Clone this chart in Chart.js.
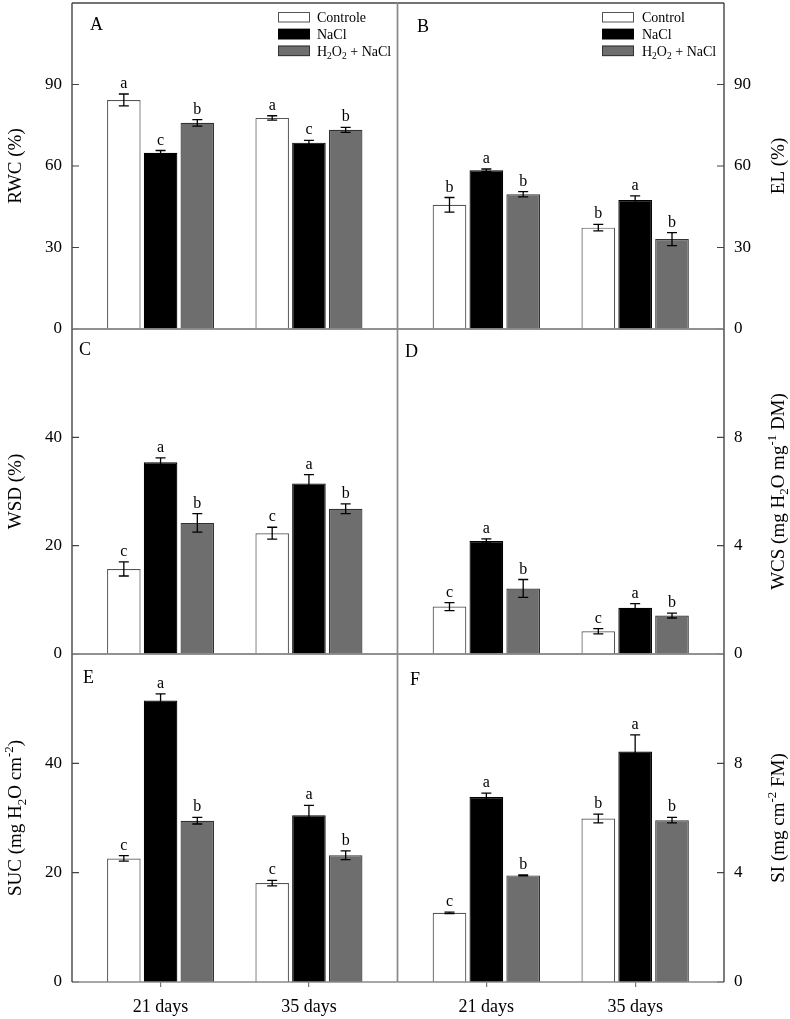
<!DOCTYPE html>
<html>
<head>
<meta charset="utf-8">
<script src="https://cdn.jsdelivr.net/npm/chart.js@4/dist/chart.umd.min.js"></script>
<style>
html,body{margin:0;padding:0;background:#fff;}
#wrap{position:relative;width:790px;height:1019px;background:#fff;}
#wrap canvas{position:absolute;left:0;top:0;}
</style>
</head>
<body>
<div id="wrap"></div>
<script>
// ---------- DATA ----------
const categories = ['21 days', '35 days'];

// A: RWC (%)
const rwcControl = [84.3, 77.7];   const rwcControlErr = [2.2, 0.8];
const rwcNaCl    = [64.9, 68.6];   const rwcNaClErr    = [0.8, 0.8];
const rwcH2O2    = [75.9, 73.3];   const rwcH2O2Err    = [1.2, 0.9];
const rwcLetters = [['a','a'], ['c','c'], ['b','b']];
const rwcTicks   = [0, 30, 60, 90];

// B: EL (%)
const elControl = [45.7, 37.3];    const elControlErr = [2.7, 1.2];
const elNaCl    = [58.4, 47.5];    const elNaClErr    = [0.5, 1.5];
const elH2O2    = [49.6, 33.1];    const elH2O2Err    = [1.0, 2.4];
const elLetters = [['b','b'], ['a','a'], ['b','b']];
const elTicks   = [0, 30, 60, 90];

// C: WSD (%)
const wsdControl = [15.7, 22.3];   const wsdControlErr = [1.3, 1.1];
const wsdNaCl    = [35.4, 31.5];   const wsdNaClErr    = [0.8, 1.6];
const wsdH2O2    = [24.2, 26.8];   const wsdH2O2Err    = [1.7, 0.9];
const wsdLetters = [['c','c'], ['a','a'], ['b','b']];
const wsdTicks   = [0, 20, 40];

// D: WCS (mg H2O mg-1 DM)
const wcsControl = [1.75, 0.84];   const wcsControlErr = [0.15, 0.10];
const wcsNaCl    = [4.17, 1.71];   const wcsNaClErr    = [0.08, 0.15];
const wcsH2O2    = [2.42, 1.42];   const wcsH2O2Err    = [0.33, 0.09];
const wcsLetters = [['c','c'], ['a','a'], ['b','b']];
const wcsTicks   = [0, 4, 8];

// E: SUC (mg H2O cm-2)
const sucControl = [22.6, 18.1];   const sucControlErr = [0.5, 0.5];
const sucNaCl    = [51.5, 30.5];   const sucNaClErr    = [1.2, 1.8];
const sucH2O2    = [29.5, 23.2];   const sucH2O2Err    = [0.6, 0.8];
const sucLetters = [['c','c'], ['a','a'], ['b','b']];
const sucTicks   = [0, 20, 40];

// F: SI (mg cm-2 FM)
const siControl = [2.53, 5.98];    const siControlErr = [0.03, 0.16];
const siNaCl    = [6.77, 8.43];    const siNaClErr    = [0.14, 0.61];
const siH2O2    = [3.90, 5.92];    const siH2O2Err    = [0.02, 0.10];
const siLetters = [['c','b'], ['a','a'], ['b','b']];
const siTicks   = [0, 4, 8];

// texts (segments: 0 normal, -1 subscript, 1 superscript)
const titleA = [['RWC (%)',0]];
const titleB = [['EL (%)',0]];
const titleC = [['WSD (%)',0]];
const titleD = [['WCS (mg H',0],['2',-1],['O mg',0],['-1',1],[' DM)',0]];
const titleE = [['SUC (mg H',0],['2',-1],['O cm',0],['-2',1],[')',0]];
const titleF = [['SI (mg cm',0],['-2',1],[' FM)',0]];
const legendA = [[['Controle',0]], [['NaCl',0]], [['H',0],['2',-1],['O',0],['2',-1],[' + NaCl',0]]];
const legendB = [[['Control',0]], [['NaCl',0]], [['H',0],['2',-1],['O',0],['2',-1],[' + NaCl',0]]];

// ---------- STYLE / LAYOUT ----------
const FONT = '"Liberation Serif", "Times New Roman", serif';
const W = 790, H = 1019;
const colX = [[72, 397.5], [397.5, 724]];
const rowY = [[3, 329], [329, 654], [654, 982]];
const fills = ['#ffffff', '#000000', '#6e6e6e'];
const borders = ['#555555', '#000000', '#333333'];
const OUTER = '#444444', INNER = '#8a8a8a';

function richWidth(ctx, segs, size) {
  let w = 0;
  for (const [t, k] of segs) { ctx.font = (k ? size * 0.68 : size) + 'px ' + FONT; w += ctx.measureText(t).width; }
  return w;
}
function drawRich(ctx, segs, x, y, size) {
  let cx = x;
  for (const [t, k] of segs) {
    const s = k ? size * 0.68 : size;
    ctx.font = s + 'px ' + FONT;
    const dy = k === -1 ? size * 0.25 : (k === 1 ? -size * 0.4 : 0);
    ctx.fillText(t, cx, y + dy);
    cx += ctx.measureText(t).width;
  }
}

const panels = [
  {letter:'A', col:0, row:0, series:[rwcControl, rwcNaCl, rwcH2O2], errs:[rwcControlErr, rwcNaClErr, rwcH2O2Err], letters:rwcLetters, max:120, ticks:rwcTicks, title:titleA, legend:legendA, legendBox:278, legendText:317, letterPos:[90,30]},
  {letter:'B', col:1, row:0, series:[elControl, elNaCl, elH2O2], errs:[elControlErr, elNaClErr, elH2O2Err], letters:elLetters, max:120, ticks:elTicks, title:titleB, legend:legendB, legendBox:602, legendText:642, letterPos:[417,32]},
  {letter:'C', col:0, row:1, series:[wsdControl, wsdNaCl, wsdH2O2], errs:[wsdControlErr, wsdNaClErr, wsdH2O2Err], letters:wsdLetters, max:60, ticks:wsdTicks, title:titleC, letterPos:[79,355]},
  {letter:'D', col:1, row:1, series:[wcsControl, wcsNaCl, wcsH2O2], errs:[wcsControlErr, wcsNaClErr, wcsH2O2Err], letters:wcsLetters, max:12, ticks:wcsTicks, title:titleD, letterPos:[405,357]},
  {letter:'E', col:0, row:2, series:[sucControl, sucNaCl, sucH2O2], errs:[sucControlErr, sucNaClErr, sucH2O2Err], letters:sucLetters, max:60, ticks:sucTicks, title:titleE, letterPos:[83,683]},
  {letter:'F', col:1, row:2, series:[siControl, siNaCl, siH2O2], errs:[siControlErr, siNaClErr, siH2O2Err], letters:siLetters, max:12, ticks:siTicks, title:titleF, letterPos:[410,685]}
];

function makePlugin(p) {
  return {
    id: 'panelDeco' + p.letter,
    afterDraw(chart) {
      const ctx = chart.ctx;
      const a = chart.chartArea;
      const ys = chart.scales.y;
      ctx.save();
      // error bars and letters
      p.series.forEach((vals, d) => {
        const meta = chart.getDatasetMeta(d);
        meta.data.forEach((el, i) => {
          const v = vals[i], e = p.errs[d][i];
          const top = ys.getPixelForValue(v + e);
          const bot = ys.getPixelForValue(v - e);
          ctx.strokeStyle = '#000';
          ctx.lineWidth = 1.3;
          ctx.beginPath();
          ctx.moveTo(el.x, top); ctx.lineTo(el.x, bot);
          ctx.moveTo(el.x - 5, top); ctx.lineTo(el.x + 5, top);
          ctx.moveTo(el.x - 5, bot); ctx.lineTo(el.x + 5, bot);
          ctx.stroke();
          ctx.fillStyle = '#000';
          ctx.font = '16px ' + FONT;
          ctx.textAlign = 'center';
          ctx.textBaseline = 'alphabetic';
          ctx.fillText(p.letters[d][i], el.x, top - 6);
        });
      });
      // inward y ticks
      ctx.strokeStyle = OUTER; ctx.lineWidth = 1.2;
      ctx.beginPath();
      p.ticks.forEach(t => {
        const y = ys.getPixelForValue(t);
        if (p.col === 0) { ctx.moveTo(a.left, y); ctx.lineTo(a.left + 7, y); }
        else { ctx.moveTo(a.right - 7, y); ctx.lineTo(a.right, y); }
      });
      ctx.stroke();
      // frame
      const edge = (x1, y1, x2, y2, c) => { ctx.strokeStyle = c; ctx.lineWidth = 1.4; ctx.beginPath(); ctx.moveTo(x1, y1); ctx.lineTo(x2, y2); ctx.stroke(); };
      edge(a.left, a.top, a.right, a.top, p.row === 0 ? OUTER : INNER);
      edge(a.left, a.bottom, a.right, a.bottom, INNER);
      edge(a.left, a.top, a.left, a.bottom, p.col === 0 ? OUTER : INNER);
      edge(a.right, a.top, a.right, a.bottom, p.col === 1 ? OUTER : INNER);
      // panel letter
      ctx.fillStyle = '#000';
      ctx.textAlign = 'left'; ctx.textBaseline = 'alphabetic';
      ctx.font = '18px ' + FONT;
      ctx.fillText(p.letter, p.letterPos[0], p.letterPos[1]);
      // y title
      const tsize = 19;
      const tw = richWidth(ctx, p.title, tsize);
      const tx = p.col === 0 ? 21 : 783.5;
      const tyc = (a.top + a.bottom) / 2;
      ctx.save();
      ctx.translate(tx, tyc);
      ctx.rotate(-Math.PI / 2);
      ctx.textAlign = 'left';
      drawRich(ctx, p.title, -tw / 2, 0, tsize);
      ctx.restore();
      // legend
      if (p.legend) {
        p.legend.forEach((segs, i) => {
          const bt = 12 + i * 16.8;
          ctx.fillStyle = fills[i];
          ctx.fillRect(p.legendBox, bt, 32, 10.5);
          ctx.strokeStyle = borders[i]; ctx.lineWidth = 1;
          ctx.strokeRect(p.legendBox + 0.5, bt + 0.5, 31, 9.5);
          ctx.fillStyle = '#000';
          ctx.textAlign = 'left';
          drawRich(ctx, segs, p.legendText, bt + 10.3, 14);
        });
      }
      ctx.restore();
    }
  };
}

const wrap = document.getElementById('wrap');
panels.forEach(p => {
  const cv = document.createElement('canvas');
  cv.width = W; cv.height = H;
  cv.style.width = W + 'px'; cv.style.height = H + 'px';
  wrap.appendChild(cv);
  const [fx0, fx1] = colX[p.col];
  const [fy0, fy1] = rowY[p.row];
  const showX = p.row === 2;
  const yW = p.col === 0 ? fx0 : W - fx1;
  const xH = showX ? H - fy1 : 0;
  const padding = {
    left: p.col === 0 ? 0 : fx0,
    right: p.col === 0 ? W - fx1 : 0,
    top: fy0,
    bottom: showX ? 0 : H - fy1
  };
  const names = ['Control', 'NaCl', 'H2O2 + NaCl'];
  new Chart(cv, {
    type: 'bar',
    data: {
      datasets: p.series.map((vals, d) => ({
        label: names[d],
        data: vals.map((v, i) => ({ x: i, y: v })),
        backgroundColor: fills[d],
        borderColor: borders[d],
        borderWidth: 1.2,
        borderSkipped: 'bottom',
        categoryPercentage: 0.743,
        barPercentage: 0.913
      }))
    },
    options: {
      responsive: false,
      animation: false,
      devicePixelRatio: 1,
      layout: { padding },
      plugins: { legend: { display: false }, tooltip: { enabled: false } },
      scales: {
        x: {
          type: 'linear',
          offset: false,
          min: -0.597, max: 1.597,
          display: showX,
          position: 'bottom',
          afterBuildTicks: s => { s.ticks = categories.map((c, i) => ({ value: i })); },
          ticks: {
            callback: v => categories[v],
            font: { family: FONT, size: 18 },
            color: '#000',
            padding: 9,
            maxRotation: 0,
            autoSkip: false
          },
          grid: { display: true, offset: false, drawOnChartArea: false, drawTicks: true, tickLength: 5, color: '#777', lineWidth: 1.2 },
          border: { display: false },
          afterFit: s => { s.height = xH; s.paddingLeft = 0; s.paddingRight = 0; }
        },
        y: {
          type: 'linear',
          position: p.col === 0 ? 'left' : 'right',
          min: 0, max: p.max,
          afterBuildTicks: s => { s.ticks = p.ticks.map(v => ({ value: v })); },
          ticks: { font: { family: FONT, size: 17 }, color: '#000', padding: 10 },
          grid: { display: false, drawTicks: false },
          border: { display: false },
          afterFit: s => { s.width = yW; s.paddingTop = 0; s.paddingBottom = 0; }
        }
      }
    },
    plugins: [makePlugin(p)]
  });
});
</script>
</body>
</html>
